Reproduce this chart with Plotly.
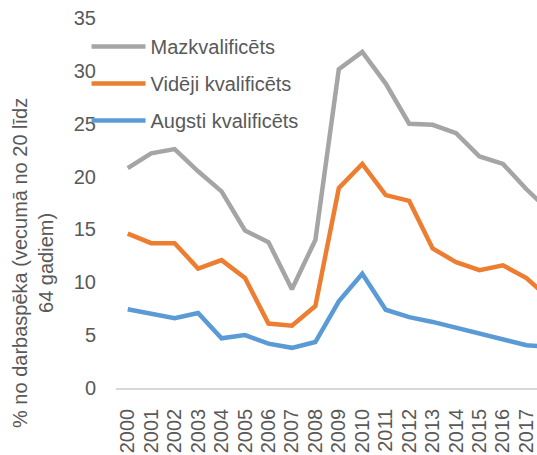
import plotly.graph_objects as go

years = [str(y) for y in range(2000, 2019)]
low = [20.8, 22.2, 22.6, 20.5, 18.6, 14.9, 13.8, 9.35, 14.0, 30.15, 31.8, 28.8, 25.0, 24.9, 24.1, 21.9, 21.2, 18.8, 16.7]
mid = [14.6, 13.7, 13.7, 11.3, 12.1, 10.4, 6.1, 5.9, 7.75, 18.9, 21.2, 18.25, 17.7, 13.2, 11.9, 11.15, 11.6, 10.4, 8.4]
high = [7.45, 7.0, 6.6, 7.1, 4.7, 5.0, 4.2, 3.8, 4.35, 8.2, 10.8, 7.4, 6.7, 6.25, 5.7, 5.1, 4.5, 4.05, 3.9]
names = ["Mazkvalificēts", "Vidēji kvalificēts", "Augsti kvalificēts"]
colors = ["#A5A5A5", "#ED7D31", "#5B9BD5"]
y_ticks = [0, 5, 10, 15, 20, 25, 30, 35]
y_title = "% no darbaspēka (vecumā no 20 līdz<br>64 gadiem)"

FONT = "Liberation Sans, Arial, sans-serif"
TXT = "#595959"

fig = go.Figure()
for i, (name, vals) in enumerate(zip(names, [low, mid, high])):
    fig.add_trace(go.Scatter(
        x=years, y=vals, name=name, mode="lines",
        line=dict(color=colors[i], width=4.5),
        legendgroup=f"g{i}",
    ))

W, H = 537, 455
ml, mr, mt, mb = 116, 0, 18, 67
fig.update_layout(
    width=W, height=H,
    margin=dict(l=ml, r=mr, t=mt, b=mb),
    paper_bgcolor="white", plot_bgcolor="white",
    font=dict(family=FONT, size=20, color=TXT),
    showlegend=True,
    legend=dict(
        x=-0.07, y=0.976, xanchor="left", yanchor="top",
        bgcolor="rgba(0,0,0,0)", font=dict(size=20, color=TXT),
        traceorder="grouped", tracegroupgap=8, itemwidth=54,
    ),
    xaxis=dict(
        type="category", range=[-0.5, 17.45], tickmode="linear", dtick=1,
        showgrid=False, showline=True, linecolor="#D9D9D9", linewidth=1.5,
        tickangle=-90, ticks="", ticklabelstandoff=11, automargin=False,
        tickfont=dict(size=20, color=TXT), zeroline=False,
    ),
    yaxis=dict(
        range=[0, 35], tickvals=y_ticks, showgrid=False, showline=False,
        zeroline=False, ticks="", ticklabelstandoff=19, automargin=False,
        tickfont=dict(size=20, color=TXT),
    ),
    annotations=[dict(
        text=y_title, textangle=-90, showarrow=False,
        xref="paper", yref="paper",
        x=(33 - ml) / (W - ml - mr), y=(388 - 263) / (H - mt - mb),
        xanchor="center", yanchor="middle",
        font=dict(size=20, color=TXT), align="center",
    )],
)

fig.write_html(
    "out.html",
    config={"displayModeBar": False},
    post_script="document.body.style.margin='0';document.body.style.overflow='hidden';",
)
